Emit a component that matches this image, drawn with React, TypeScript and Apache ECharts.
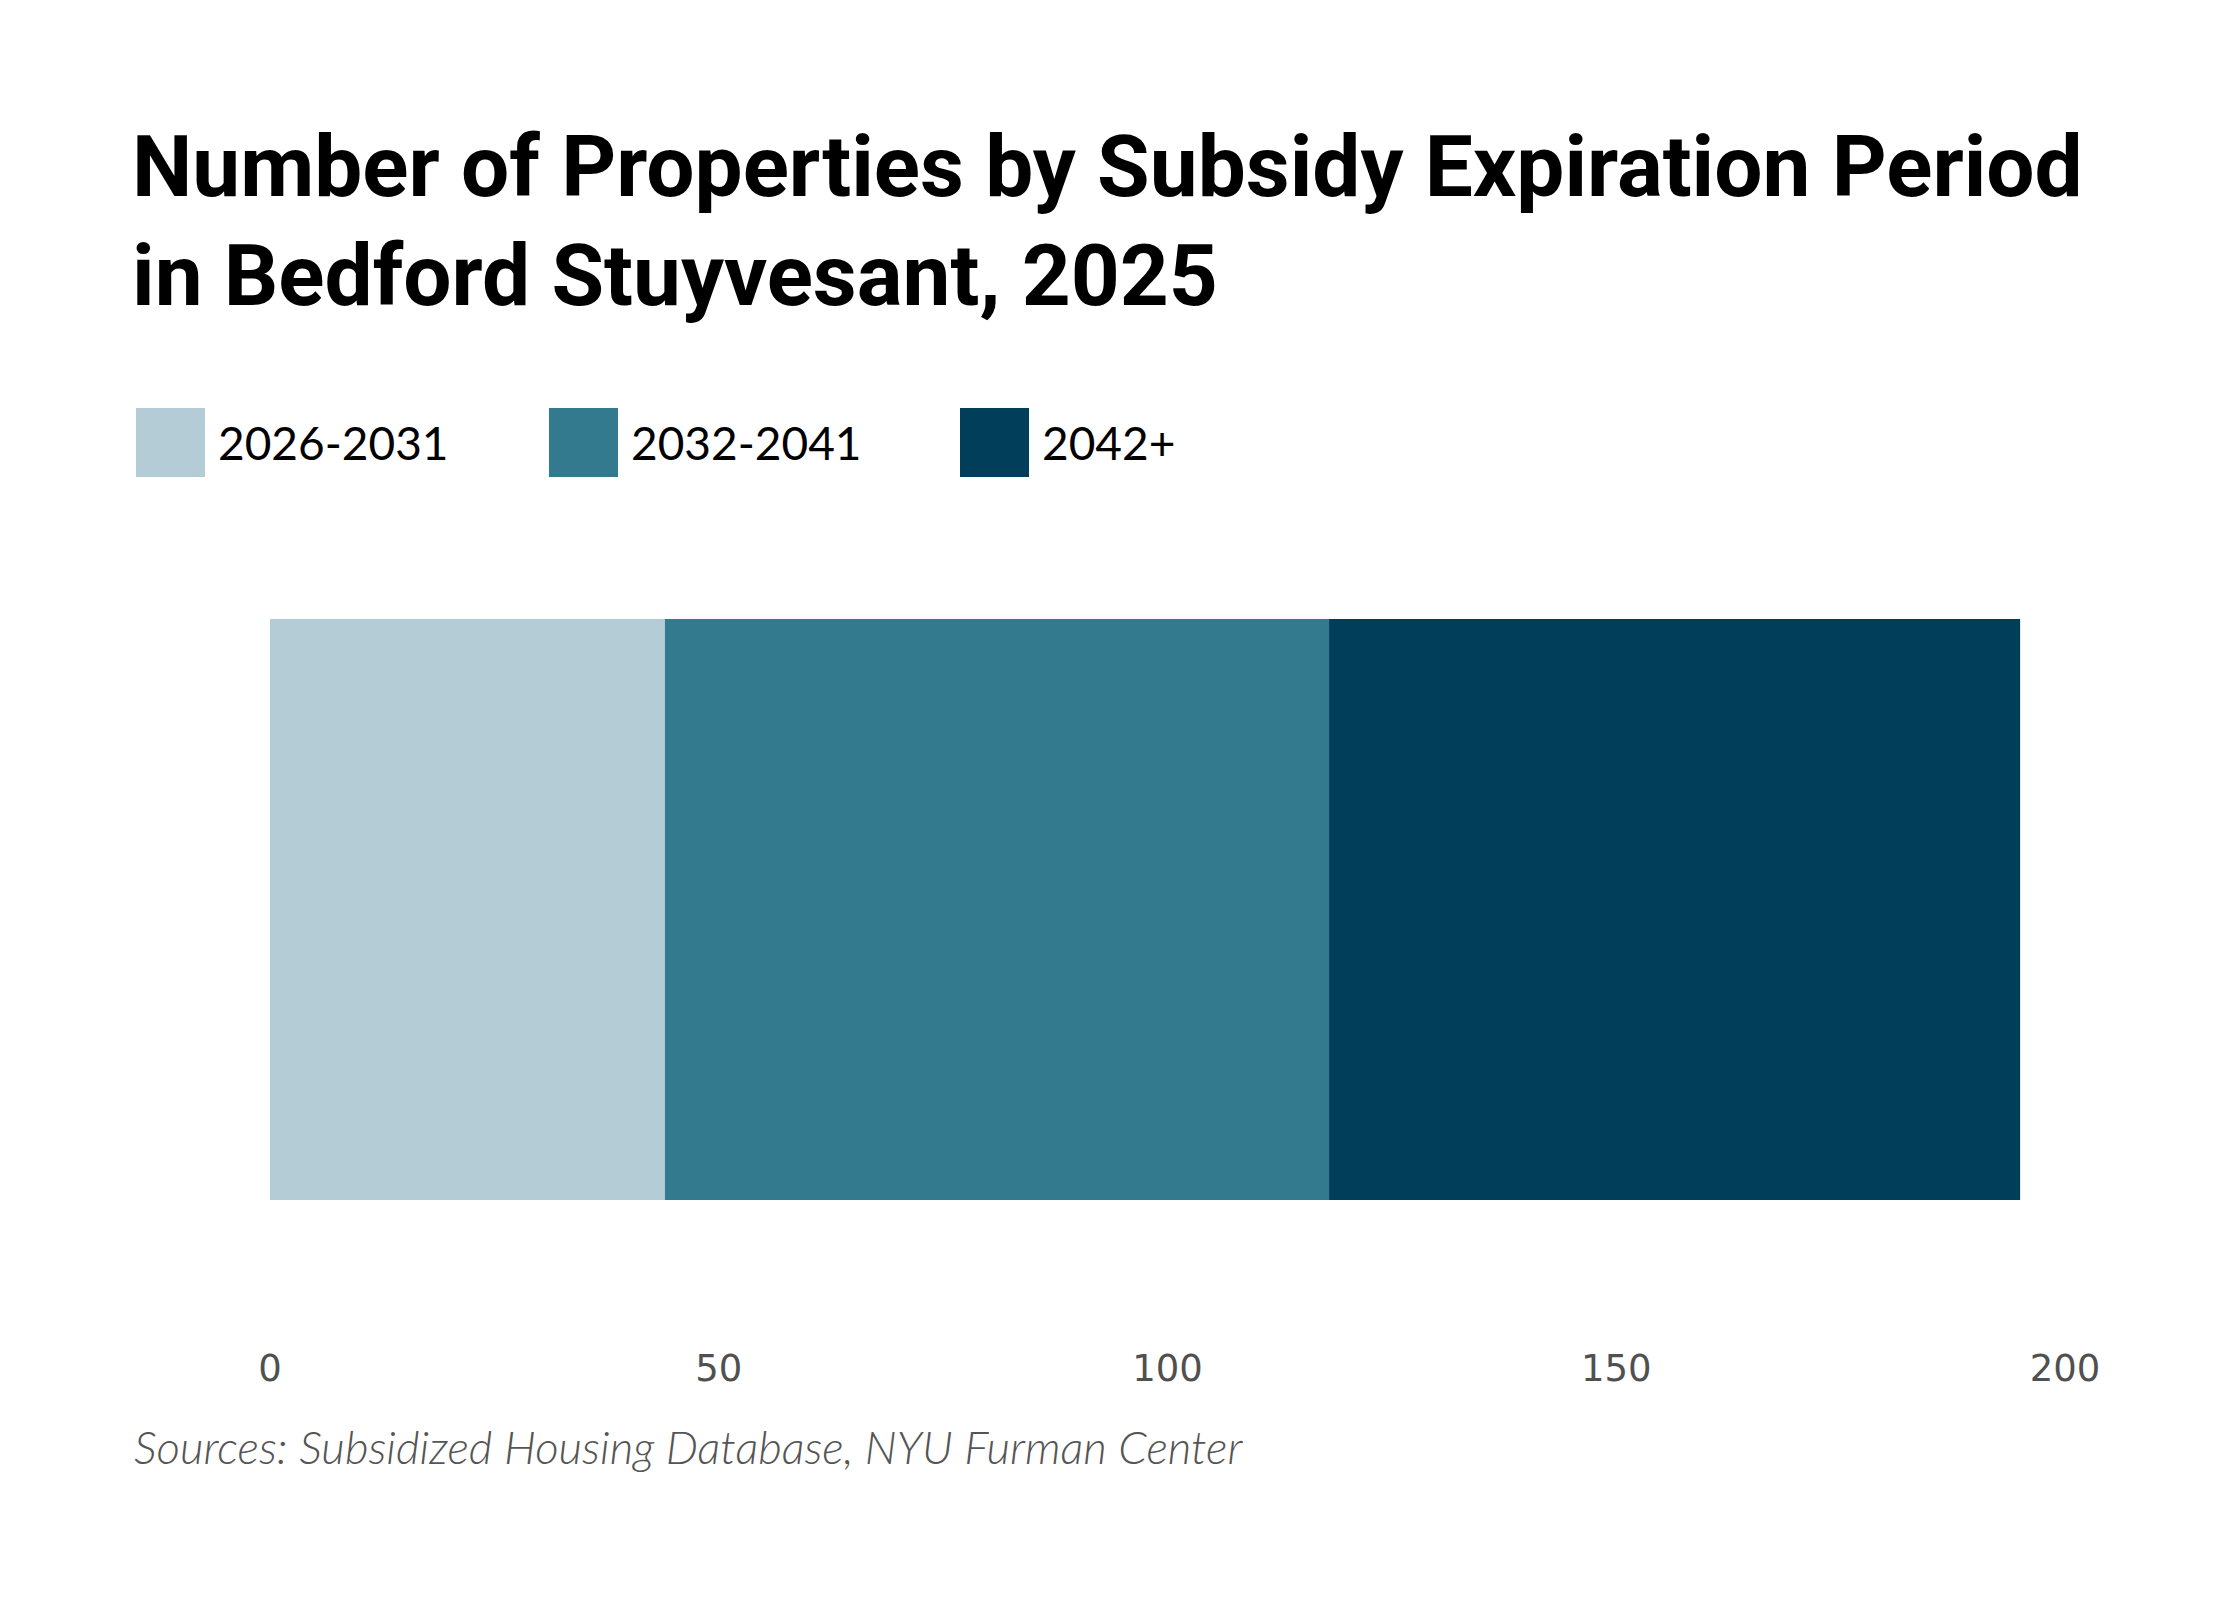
import React, { useEffect, useRef } from "react";
import * as echarts from "echarts";

const categories = ["Bedford Stuyvesant"];
const seriesNames = ["2026-2031", "2032-2041", "2042+"];
const values2026to2031 = [44];
const values2032to2041 = [74];
const values2042plus = [77];
const tickValues = [0, 50, 100, 150, 200];
const colors = ["#b3ccd6", "#347a8f", "#013e5a"];
const legendLefts = [136, 549, 960];

const titleText = "Number of Properties by Subsidy Expiration Period\nin Bedford Stuyvesant, 2025";
const sourceText = "Sources: Subsidized Housing Database, NYU Furman Center";

export default function App() {
  const ref = useRef<HTMLDivElement>(null);
  useEffect(() => {
    document.body.style.margin = "0";
    const chart = echarts.init(ref.current!, null, { renderer: "svg" });
    const seriesData = [values2026to2031, values2032to2041, values2042plus];
    chart.setOption({
      animation: false,
      backgroundColor: "#ffffff",
      title: {
        text: titleText,
        left: 132,
        top: 112,
        padding: 0,
        textStyle: {
          fontFamily: "Roboto, 'Liberation Sans', sans-serif",
          fontWeight: "bold",
          fontSize: 85.5,
          lineHeight: 109,
          color: "#000000",
        },
      },
      legend: seriesNames.map((name, i) => ({
        left: legendLefts[i],
        top: 408,
        padding: 0,
        itemWidth: 69,
        itemHeight: 69,
        itemGap: 0,
        icon: "rect",
        data: [name],
        textStyle: {
          fontFamily: "Lato, 'Noto Sans', sans-serif",
          fontSize: 46,
          color: "#000000",
          padding: [0, 0, 0, 8],
        },
      })),
      grid: { left: 270, right: 175, top: 509, bottom: 290, containLabel: false },
      xAxis: {
        type: "value",
        min: tickValues[0],
        max: tickValues[tickValues.length - 1],
        interval: tickValues[1] - tickValues[0],
        axisLine: { show: false },
        axisTick: { show: false },
        splitLine: { show: false },
        axisLabel: {
          margin: 40,
          fontFamily: "'DejaVu Sans', sans-serif",
          fontSize: 37,
          color: "#505050",
        },
      },
      yAxis: {
        type: "category",
        data: categories,
        show: false,
      },
      series: seriesNames.map((name, i) => ({
        name,
        type: "bar",
        stack: "total",
        barWidth: 581,
        data: seriesData[i],
        itemStyle: { color: colors[i] },
      })),
      graphic: [
        {
          type: "text",
          left: 134,
          top: 1423,
          style: {
            text: sourceText,
            fontFamily: "Lato, 'Noto Sans', sans-serif",
            fontStyle: "italic",
            fontWeight: 300,
            fontSize: 45.6,
            fill: "#555555",
          },
        },
      ],
    });
    return () => chart.dispose();
  }, []);
  return <div ref={ref} style={{ width: 2240, height: 1600 }} />;
}
